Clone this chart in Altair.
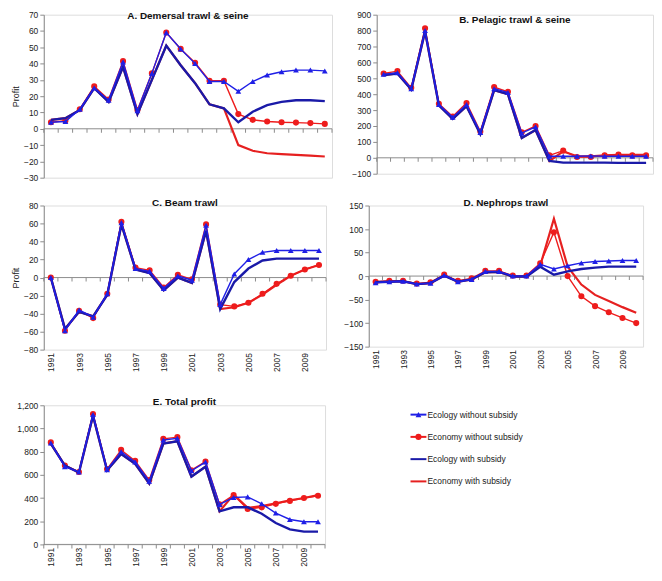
import altair as alt
import pandas as pd

years = list(range(1991, 2011))
series_names = ["Ecology without subsidy", "Economy without subsidy",
                "Ecology with subsidy", "Economy with subsidy"]
series_colors = ["#1f1fe6", "#ee1c1c", "#1a1aa8", "#e62020"]

# A. Demersal trawl & seine
a_eco_wo = [4, 4.5, 12, 25, 17.5, 41, 11, 34, 59, 49, 40, 29, 29, 23, 29, 33, 35, 36, 36, 35.5]
a_econ_wo = [4, 5, 12, 26, 18, 41.5, 11.5, 34, 59, 49, 40.5, 29.5, 29.5, 9, 5.5, 4.5, 4, 3.8, 3.5, 3]
a_eco_w = [5.5, 6.5, 11.5, 25, 16.5, 38, 9, 30, 51, 39, 28, 15, 12.5, 4, 10.5, 14.5, 16.5, 17.5, 17.5, 17]
a_econ_w = [5.5, 6.5, 11.5, 25, 16.5, 38, 9, 30, 51, 39, 28, 15, 12.5, -10, -13.5, -15, -15.5, -16, -16.5, -17]

# B. Pelagic trawl & seine
b_eco_wo = [525, 535, 435, 800, 335, 255, 335, 160, 435, 410, 155, 195, 10, 10, 10, 12, 10, 10, 10, 10]
b_econ_wo = [530, 545, 440, 815, 340, 260, 345, 165, 445, 415, 160, 200, 15, 45, 5, 5, 15, 20, 15, 15]
b_eco_w = [520, 530, 430, 795, 330, 245, 325, 150, 425, 400, 125, 175, -20, -30, -30, -30, -30, -32, -32, -32]
b_econ_w = [520, 530, 430, 795, 330, 245, 325, 150, 425, 400, 125, 175, -20, 40, 10, 10, 15, 18, 18, 18]

# C. Beam trawl
c_eco_wo = [0, -59, -36, -44, -18, 61, 10, 7, -12, 2, -3, 58, -30, 4, 20, 28, 30, 30, 30, 30]
c_econ_wo = [0, -59, -37, -45, -18, 62, 11, 8, -11, 3, -2, 59, -30, -32, -28, -18, -7, 2, 9, 14]
c_eco_w = [0, -57, -38, -43, -19, 59, 9, 5, -14, 0, -6, 52, -35, -5, 10, 19, 21, 21, 21, 21]
c_econ_w = [0, -57, -38, -43, -19, 59, 9, 5, -14, 0, -6, 52, -35, -33, -28, -19, -8, 2, 9, 14]

# D. Nephrops trawl
d_eco_wo = [-14, -12, -11, -17, -15, 2, -12, -7, 10, 10, 0, 0, 25, 15, 22, 28, 31, 32, 33, 33]
d_econ_wo = [-12, -10, -10, -16, -13, 3, -10, -5, 11, 11, 1, 1, 27, 93, 0, -43, -64, -77, -89, -100]
d_eco_w = [-13, -12, -11, -17, -15, 1, -12, -7, 8, 9, -1, -1, 20, 3, 10, 15, 18, 20, 20, 20]
d_econ_w = [-13, -12, -11, -17, -15, 1, -12, -7, 8, 9, -1, -1, 22, 122, 20, -18, -40, -53, -66, -78]

# E. Total profit
e_eco_wo = [875, 670, 625, 1120, 645, 800, 710, 545, 900, 915, 635, 710, 345, 405, 410, 350, 270, 215, 195, 195]
e_econ_wo = [880, 680, 625, 1125, 650, 815, 720, 555, 910, 925, 640, 715, 345, 425, 305, 320, 350, 375, 400, 420]
e_eco_w = [870, 680, 620, 1110, 640, 780, 695, 525, 870, 890, 585, 670, 285, 320, 320, 265, 185, 130, 110, 110]
e_econ_w = [870, 680, 620, 1110, 640, 780, 695, 525, 870, 890, 585, 670, 285, 430, 315, 330, 355, 380, 400, 425]

# category boundaries (tick marks between years on the zero line)
year_bounds = [1990.5 + i for i in range(21)]
label_years = list(range(1991, 2011, 2))

FONT = "Liberation Sans"
AXIS_GREY = "#8c8c8c"
color_scale = alt.Scale(domain=series_names, range=series_colors)


def panel(title, eco_wo, econ_wo, eco_w, econ_w, ymin, ymax, step, width, height,
          ytitle=None, year_labels=True, fmt="d", title_offset=2, min_extent=20):
    rows = []
    for name, vals in zip(series_names, [eco_wo, econ_wo, eco_w, econ_w]):
        for y, v in zip(years, vals):
            rows.append({"year": y, "series": name, "value": v})
    df = pd.DataFrame(rows)
    base = alt.Chart(df)

    xscale = alt.Scale(domain=[year_bounds[0], year_bounds[-1]], nice=False, zero=False)
    yscale = alt.Scale(domain=[ymin, ymax], nice=False, zero=False)
    yaxis = alt.Axis(values=list(range(ymin, ymax + 1, step)), format=fmt, grid=False,
                     tickSize=4, domainColor=AXIS_GREY, tickColor=AXIS_GREY,
                     labelFontSize=8.5, labelFont=FONT, labelColor="#222",
                     labelOverlap=False, labelPadding=2, minExtent=min_extent,
                     title=ytitle, titleFont=FONT, titleFontSize=9,
                     titleFontWeight="normal", titleColor="#222", titlePadding=3)
    if year_labels:
        xaxis = alt.Axis(values=label_years, format="d", labelAngle=270,
                         labelFontSize=8.5, labelFont=FONT, labelColor="#222",
                         labelAlign="right", labelBaseline="middle", labelOverlap=False,
                         domain=False, ticks=False, grid=False, title=None,
                         orient="bottom", labelPadding=3)
    else:
        xaxis = None

    def x_enc(field):
        return alt.X(field, scale=xscale, axis=xaxis)

    def y_enc(field):
        return alt.Y(field, scale=yscale, axis=yaxis)

    # zero line with category tick marks
    zdf = pd.DataFrame({"x": year_bounds, "zero": [0] * len(year_bounds)})
    zero_line = alt.Chart(pd.DataFrame({"x": [year_bounds[0]], "x2": [year_bounds[-1]],
                                        "zero": [0]})).mark_rule(
        color=AXIS_GREY, strokeWidth=1).encode(
        x=x_enc("x:Q"), x2="x2:Q", y=y_enc("zero:Q"))
    zero_ticks = alt.Chart(zdf).mark_tick(
        color=AXIS_GREY, orient="vertical", size=4, thickness=1, yOffset=2, opacity=1).encode(
        x=x_enc("x:Q"), y=y_enc("zero:Q"))

    econ_w_line = base.transform_filter(alt.datum.series == series_names[3]).mark_line(
        color=series_colors[3], strokeWidth=2.2).encode(x=x_enc("year:Q"), y=y_enc("value:Q"))
    econ_wo_line = base.transform_filter(alt.datum.series == series_names[1]).mark_line(
        color=series_colors[1], strokeWidth=1.4,
        point=alt.OverlayMarkDef(filled=True, size=38, color=series_colors[1])).encode(
        x=x_enc("year:Q"), y=y_enc("value:Q"))
    eco_w_line = base.transform_filter(alt.datum.series == series_names[2]).mark_line(
        color=series_colors[2], strokeWidth=2.4).encode(x=x_enc("year:Q"), y=y_enc("value:Q"))
    eco_wo_line = base.transform_filter(alt.datum.series == series_names[0]).mark_line(
        color=series_colors[0], strokeWidth=1.4,
        point=alt.OverlayMarkDef(filled=True, size=34, shape="triangle-up",
                                 color=series_colors[0])).encode(
        x=x_enc("year:Q"), y=y_enc("value:Q"))

    return alt.layer(zero_line, zero_ticks, econ_w_line, econ_wo_line, eco_w_line,
                     eco_wo_line).properties(
        width=width, height=height,
        title=alt.TitleParams(title, font=FONT, fontSize=10, fontWeight="bold",
                              color="#111", offset=title_offset, anchor="middle"))


pA = panel("A. Demersal trawl & seine", a_eco_wo, a_econ_wo, a_eco_w, a_econ_w,
           -30, 70, 10, 290, 164, ytitle="Profit", year_labels=False, title_offset=-10)
pB = panel("B. Pelagic trawl & seine", b_eco_wo, b_econ_wo, b_eco_w, b_econ_w,
           -100, 900, 100, 278, 160, year_labels=False, title_offset=-14)
pC = panel("C. Beam trawl", c_eco_wo, c_econ_wo, c_eco_w, c_econ_w,
           -80, 80, 20, 284, 145, ytitle="Profit", title_offset=-6)
pD = panel("D. Nephrops trawl", d_eco_wo, d_econ_wo, d_eco_w, d_econ_w,
           -150, 150, 50, 276, 142, title_offset=-6)
pE = panel("E. Total profit", e_eco_wo, e_econ_wo, e_eco_w, e_econ_w,
           0, 1200, 200, 283, 140, fmt=",d", title_offset=-6, min_extent=35)

# Legend panel
leg_df = pd.DataFrame({"series": series_names})
leg_y = alt.Y("series:N", sort=series_names, axis=None,
              scale=alt.Scale(type="point", padding=0.42))
leg_color = alt.Color("series:N", scale=color_scale, legend=None)
leg_base = alt.Chart(leg_df)
leg_lines = leg_base.mark_rule(strokeWidth=2).encode(
    x=alt.value(0), x2=alt.value(16), y=leg_y, color=leg_color)
leg_tri = leg_base.transform_filter(alt.datum.series == series_names[0]).mark_point(
    shape="triangle-up", filled=True, size=34, opacity=1).encode(
    x=alt.value(8), y=leg_y, color=leg_color)
leg_circ = leg_base.transform_filter(alt.datum.series == series_names[1]).mark_point(
    shape="circle", filled=True, size=38, opacity=1).encode(
    x=alt.value(8), y=leg_y, color=leg_color)
leg_text = leg_base.mark_text(align="left", baseline="middle", font=FONT, fontSize=8.5,
                              color="#222").encode(
    x=alt.value(17), y=leg_y, text="series:N")
legend = alt.layer(leg_lines, leg_tri, leg_circ, leg_text).properties(
    width=150, height=86, view=alt.ViewBackground(stroke="transparent", strokeWidth=0))

row1 = alt.hconcat(pA, pB, spacing=18)
row2 = alt.hconcat(pC, pD, spacing=16)
row3 = alt.hconcat(pE, legend, spacing=84)

# the gap between rows 2 and 3 is larger in the reference than between rows 1 and 2
chart = alt.vconcat(alt.vconcat(row1, row2, spacing=14), row3, spacing=24).properties(
    padding={"left": 0, "top": 0, "right": 0, "bottom": 0}).configure_view(
    stroke="transparent", strokeWidth=0).configure(background="white")

chart.save("out.html", embed_options={"renderer": "svg", "actions": False})
